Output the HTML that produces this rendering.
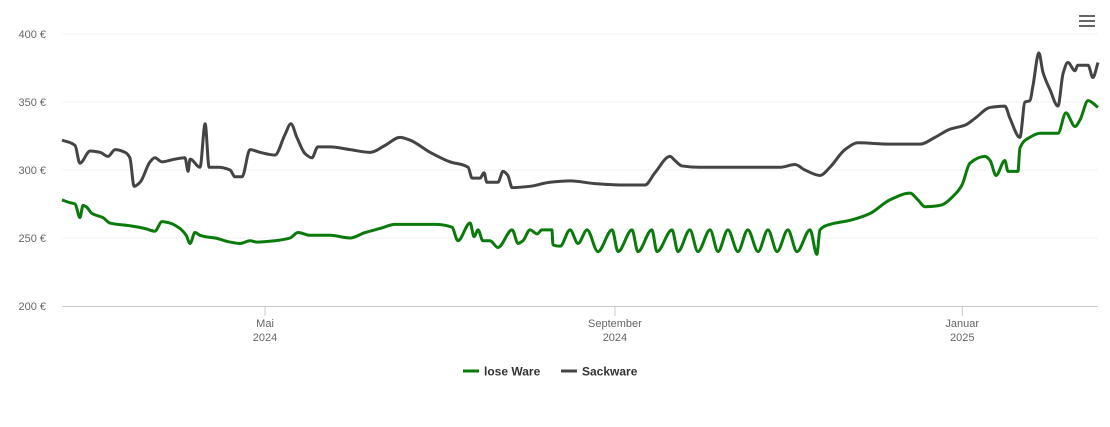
<!DOCTYPE html>
<html><head><meta charset="utf-8"><style>
body{margin:0;background:#fff;font-family:"Liberation Sans",sans-serif}
svg text{font-family:"Liberation Sans",sans-serif}
</style></head><body>
<svg id="chart" width="1110" height="422">
<g>
<rect x="1079" y="15" width="16" height="2" fill="#666"/><rect x="1079" y="20" width="16" height="2" fill="#666"/><rect x="1079" y="25" width="16" height="2" fill="#666"/>
</g>
<g id="grid"></g><g id="axes"></g><g id="series"></g>
<g>
<g>
<line x1="463" y1="371" x2="479" y2="371" stroke="#0a7a0a" stroke-width="3"/>
<text x="484" y="375.5" font-size="12" font-weight="bold" fill="#333">lose Ware</text></g>
<g>
<line x1="561" y1="371" x2="577" y2="371" stroke="#444" stroke-width="3"/>
<text x="582" y="375.5" font-size="12" font-weight="bold" fill="#333">Sackware</text></g>
</g>
</svg>
<script>
const yTicks=[200,250,300,350,400];
const xTickDays=[71.5,194.7,317];
const xTickLabels=[["Mai","2024"],["September","2024"],["Januar","2025"]];
const sackDays=[0,4.6,6.3,9.9,13.4,16.2,18.7,22.2,23.9,25.4,27.5,31,32.7,35.2,39.8,43.3,44.4,45.1,48.6,50.4,51.8,54.9,59.2,60.9,63.4,66.2,69.7,75,78.5,80.6,82.7,85.6,88,90.1,94.4,101.4,108.5,113.7,119,122.5,129.6,136.6,143,144.4,147.2,148.6,149.6,153.5,155.3,157,158.5,164.8,171.8,178.9,187.7,196.5,205.3,208.8,214.1,215.8,218.3,224.6,242.3,252.8,258.1,261.6,266.9,270.4,275.7,280.3,291.5,302.1,307.4,312.7,318,321.5,326.8,332,333.8,337.3,339.1,340.8,341.9,344,345.4,347.9,350.7,352.5,354.2,356.7,357.7,361.3,363,364.8];
const sackValues=[322,318,305,314,313,310,315,313,309,288,291,306,309,306,308,309,299,308,302,334,302,302,300,295,295,315,313,311,326,334,324,312,309,317,317,315,313,318,324,322,313,306,302,294,294,298,291,291,299,296,287,288,291,292,290,289,289,298,310,307,303,302,302,302,304,300,296,302,315,320,319,319,324,330,333,338,346,347,338,324,350,351,362,386,372,359,347,371,379,373,377,377,368,379];
const looseDays=[0,2.8,4.6,6.3,7.4,8.5,10.6,14.4,16.9,23.9,29.2,32.7,35.2,38,41.5,43.7,45.1,46.8,48.6,50.4,53.9,59.2,62.7,66.2,68.7,75,80.3,83.1,87.3,94.4,101.4,106.7,112,117.3,122.5,131.3,137.3,139.4,143.7,145.1,146.5,148.2,150.7,153.5,158.5,160.6,162.3,164.8,167.3,169,172.5,172.9,175.4,178.9,181.7,184.9,188.7,193.7,195.8,200.7,202.8,207.7,209.5,214.8,216.9,221.1,223.9,228.2,231,234.5,238,241.5,245.1,248.6,251.8,255.6,258.8,263.4,265.8,266.9,270.4,277.5,284.5,291.5,298.6,301.4,303.9,309.2,314.4,316.9,319.7,325,326.8,328.9,332,333.1,336.6,337.3,340.8,344.4,350.7,353.5,356.7,358.5,361.3,364.8];
const looseValues=[278,276,275,265,274,273,268,265,261,259,257,255,262,261,257,252,246,254,252,251,250,247,246,248,247,248,250,254,252,252,250,254,257,260,260,260,258,248,261,251,256,248,248,243,256,246,248,256,253,256,256,245,244,256,246,256,240,256,240,256,240,256,240,256,240,256,240,256,240,256,240,256,240,256,240,256,240,256,238,256,260,263,268,278,283,278,273,274,282,289,305,310,307,296,307,299,299,316,324,327,327,342,332,337,351,346];
const X0=62,X1=1098,D1=364.8;
const xs=d=>X0+(d/D1)*(X1-X0);
const ys=v=>306-(v-200)*272/200;
const NS="http://www.w3.org/2000/svg";
function mk(tag,attrs,parent){const e=document.createElementNS(NS,tag);for(const k in attrs)e.setAttribute(k,attrs[k]);parent.appendChild(e);return e;}
const grid=document.getElementById('grid'),axes=document.getElementById('axes'),series=document.getElementById('series');
yTicks.forEach(v=>{
 if(v>200){const l=mk('line',{x1:X0,x2:X1,y1:ys(v),y2:ys(v),stroke:'#e6e6e6','stroke-width':1,'stroke-dasharray':'1,1'},grid);
 
 }
 const t=mk('text',{x:46,y:ys(v)+4,'text-anchor':'end','font-size':11,fill:'#666'},axes);t.textContent=v+' €';
 
 
});
const ax=mk('line',{x1:X0,x2:X1,y1:306.5,y2:306.5,stroke:'#ccc'},axes);


xTickDays.forEach((d,i)=>{
 const x=xs(d);
 mk('line',{x1:x,x2:x,y1:306,y2:316,stroke:'#ccc'},axes);
 const t=mk('text',{x:x,y:327,'text-anchor':'middle','font-size':11,fill:'#666'},axes);
 
 
 mk('tspan',{x:x,dy:0},t).textContent=xTickLabels[i][0];
 mk('tspan',{x:x,dy:14},t).textContent=xTickLabels[i][1];
});
function mono(px,py){
 const n=px.length,m=[],dx=[],s=[];
 for(let i=0;i<n-1;i++){dx[i]=px[i+1]-px[i];s[i]=(py[i+1]-py[i])/dx[i];}
 m[0]=s[0];m[n-1]=s[n-2];
 for(let i=1;i<n-1;i++){if(s[i-1]*s[i]<=0)m[i]=0;else m[i]=3*(dx[i-1]+dx[i])/((2*dx[i]+dx[i-1])/s[i-1]+(dx[i]+2*dx[i-1])/s[i]);}
 let d='M'+px[0]+','+py[0];
 for(let i=0;i<n-1;i++){const h=dx[i]/3;d+=' C'+(px[i]+h)+','+(py[i]+m[i]*h)+' '+(px[i+1]-h)+','+(py[i+1]-m[i+1]*h)+' '+px[i+1]+','+py[i+1];}
 return d;
}
function draw(days,vals,color,name){
 const p=mk('path',{d:mono(days.map(xs),vals.map(ys)),fill:'none',stroke:color,'stroke-width':3,'stroke-linejoin':'round'},series);
 
 
}
draw(looseDays,looseValues,'#0a7a0a','lose-ware-line');
draw(sackDays,sackValues,'#444','sackware-line');
</script>
</body></html>
